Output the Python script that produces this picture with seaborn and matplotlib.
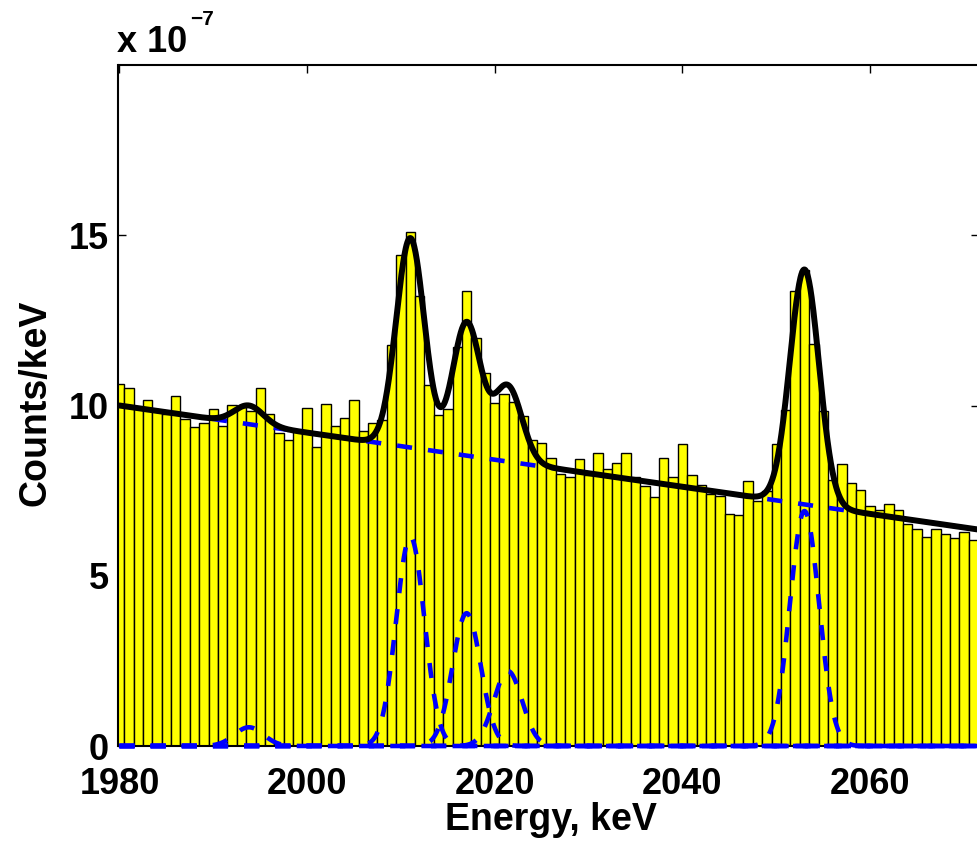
import numpy as np
import pandas as pd
import matplotlib
matplotlib.use("Agg")
import matplotlib.pyplot as plt
import seaborn as sns

# ---- spectrum: 1 keV bins, counts per keV (units of 1e-7) ----
energy = np.arange(1980, 2072)
counts_e7 = [
    10.62, 10.51, 9.95, 10.15, 9.85, 9.75, 10.27, 9.60, 9.36, 9.50,   # 1980-1989
    9.91, 9.40, 10.00, 9.95, 9.83, 10.52, 9.75, 9.20, 8.99, 9.27,     # 1990-1999
    9.92, 8.78, 10.04, 9.40, 9.63, 10.17, 9.24, 9.50, 9.56, 11.77,    # 2000-2009
    14.42, 15.10, 13.22, 10.59, 9.71, 9.90, 11.71, 13.36, 11.99, 10.96,  # 2010-2019
    10.06, 10.33, 10.10, 9.69, 8.98, 8.89, 8.45, 7.98, 7.90, 8.43,    # 2020-2029
    7.95, 8.61, 8.14, 8.31, 8.60, 7.90, 7.65, 7.31, 8.46, 7.91,       # 2030-2039
    8.86, 7.96, 7.66, 7.41, 7.34, 6.80, 6.77, 7.77, 7.19, 7.48,       # 2040-2049
    8.88, 9.87, 13.37, 13.98, 11.81, 9.85, 7.80, 8.29, 7.72, 7.53,    # 2050-2059
    7.04, 6.92, 7.12, 6.92, 6.53, 6.38, 6.14, 6.38, 6.24, 6.11,       # 2060-2069
    6.28, 6.04,                                                       # 2070-2071
]
SCALE = 1e-7
counts = np.array(counts_e7) * SCALE

# ---- fit model: linear background + gaussian lines ----
bg_ref_energy = 1980.0
bg_level_e7 = 10.0
bg_slope_e7 = -0.0398           # per keV
peak_centres = [1993.8, 2011.0, 2017.0, 2021.4, 2053.0]
peak_amps_e7 = [0.55, 6.15, 3.90, 2.20, 6.90]
peak_sigmas = [1.55, 1.5, 1.5, 1.5, 1.55]

x_ticks = [1980, 2000, 2020, 2040, 2060]
y_ticks_e7 = [0, 5, 10, 15]

# ---- figure ----
sns.set_style("ticks")
plt.rcParams["font.family"] = ["Liberation Sans", "DejaVu Sans"]
plt.rcParams["font.weight"] = "bold"
plt.rcParams["text.color"] = "black"
plt.rcParams["axes.labelcolor"] = "black"
plt.rcParams["xtick.color"] = "black"
plt.rcParams["ytick.color"] = "black"

W, H = 978, 841
fig = plt.figure(figsize=(W / 100, H / 100), dpi=100)
ax_left, ax_right, ax_top, ax_bottom = 118.5, 979.0, 65.0, 746.0
ax = fig.add_axes([ax_left / W, 1 - ax_bottom / H,
                   (ax_right - ax_left) / W, (ax_bottom - ax_top) / H])

spec = pd.DataFrame({"energy": energy, "counts": counts})
bin_edges = [float(e) - 0.5 for e in energy] + [float(energy[-1]) + 0.5]
sns.histplot(data=spec, x="energy", weights="counts", bins=bin_edges,
             stat="count", color="#FFFF00", alpha=1.0,
             edgecolor="black", linewidth=1.0, ax=ax, zorder=1)

grid = np.linspace(1980.0, 2071.7, 2000)
background = (bg_level_e7 + bg_slope_e7 * (grid - bg_ref_energy)) * SCALE
gaussians = [a * SCALE * np.exp(-0.5 * ((grid - c) / s) ** 2)
             for c, a, s in zip(peak_centres, peak_amps_e7, peak_sigmas)]
total = background + np.sum(gaussians, axis=0)

dash_lw = 3.3
dash_kw = dict(color="#0000FF", linewidth=dash_lw, dashes=(3.3, 3.5),
               ax=ax, legend=False)
sns.lineplot(x=grid, y=background, **dash_kw)
for g in gaussians:
    sns.lineplot(x=grid, y=g, **dash_kw)
for line in ax.lines:
    line.set_clip_on(False)
    line.set_zorder(3)
    line.set_dash_capstyle("butt")

sns.lineplot(x=grid, y=total, color="black", linewidth=4.3, ax=ax,
             legend=False)
ax.lines[-1].set_zorder(4)

# ---- axes styling ----
ax.set_xlim(1979.9, 1979.9 + (ax_right - ax_left) / 9.384)
ax.set_ylim(0, 20 * SCALE)
ax.set_xticks(x_ticks)
ax.set_xticklabels([str(t) for t in x_ticks])
ax.set_yticks([t * SCALE for t in y_ticks_e7])
ax.set_yticklabels([str(t) for t in y_ticks_e7])
ax.set_xlabel("")
ax.set_ylabel("")
for side in ["left", "right", "top", "bottom"]:
    ax.spines[side].set_visible(True)
    ax.spines[side].set_linewidth(1.5)
    ax.spines[side].set_color("black")
    ax.spines[side].set_zorder(2.5)
ax.tick_params(axis="both", which="both", direction="in", length=6,
               width=1.0, top=True, right=True, labelsize=26,
               colors="black")
ax.tick_params(axis="x", pad=15)
ax.tick_params(axis="y", pad=7)
for lab in ax.get_xticklabels() + ax.get_yticklabels():
    lab.set_fontweight("bold")

fig.text(551 / W, 1 - 830 / H, "Energy, keV", ha="center", va="baseline",
         fontsize=27, fontweight="bold")
fig.text(36 / W, 1 - 403 / H, "Counts/keV", ha="center", va="center",
         rotation=90, fontsize=27, fontweight="bold")
fig.text(117 / W, 1 - 52 / H, "x 10", ha="left", va="baseline",
         fontsize=26, fontweight="bold")
fig.text(190 / W, 1 - 25 / H, "\u22127", ha="left", va="baseline",
         fontsize=15, fontweight="bold")

fig.savefig("out.png", dpi=100)
